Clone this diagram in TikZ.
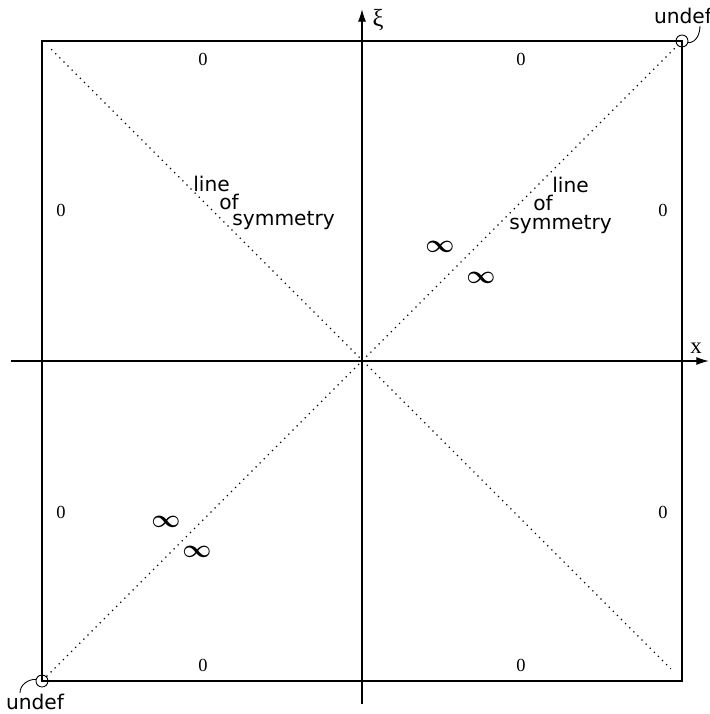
\documentclass[tikz,border=0pt]{standalone}
\usepackage{amsmath}
\usepackage{fontspec}
\setmainfont{Liberation Serif}
\newfontfamily\labelfont{DejaVu Sans}
\usetikzlibrary{arrows.meta}
\begin{document}
\begin{tikzpicture}[
    x=0.02cm, y=0.02cm,
    axis/.style={-{Latex[length=7pt,width=4.5pt]}, line width=0.6pt},
    symline/.style={line width=0.7pt, dash pattern=on 0.7pt off 2.6pt},
    zero/.style={font=\fontsize{10.5}{12}\selectfont, inner sep=0pt},
    symlabel/.style={font=\labelfont\fontsize{11.5}{12}\selectfont, inner sep=0pt},
    steplabel/.style={symlabel, anchor=base west, text height=1ex, text depth=0pt},
    blowup/.style={font=\Large, inner sep=0pt},
    endmark/.style={circle, draw, line width=0.5pt, minimum size=0.24cm, inner sep=0pt}
  ]
    \useasboundingbox (-362,-353) rectangle (348,361);
    % box and axes
    \draw[line width=0.6pt] (-320,-320) rectangle (320,320);
    \node[inner sep=0pt] (xl) at (-352,0) {};
    \node[inner sep=0pt] (xr) at (348,0) {};
    \node[inner sep=0pt] (yb) at (0,-344) {};
    \node[inner sep=0pt] (yt) at (0,353) {};
    \draw[axis] (xl) -- (xr);
    \draw[axis] (yb) -- (yt);
    \node[font=\fontsize{13}{14}\selectfont, inner sep=0pt] (xlab) at (334,13) {x};
    \node[font=\fontsize{14}{15}\selectfont, inner sep=0pt] (xilab) at (16,341) {ξ};
    % corners where it is undefined
    \node[endmark] (cur) at (320,320) {};
    \node[endmark] (cll) at (-320,-320) {};
    % lines of symmetry
    \draw[symline] (cll) -- (cur);
    \node[inner sep=0pt] (atl) at (-312,313) {};
    \node[inner sep=0pt] (abr) at (310,-309) {};
    \draw[symline] (atl) -- (abr);
    % zeros on the boundary
    \node[zero] (z1) at (-159,302) {0};
    \node[zero] (z2) at (159,302) {0};
    \node[zero] (z3) at (-301,151) {0};
    \node[zero] (z4) at (301,151) {0};
    \node[zero] (z5) at (-301,-151) {0};
    \node[zero] (z6) at (301,-151) {0};
    \node[zero] (z7) at (-159,-304) {0};
    \node[zero] (z8) at (159,-304) {0};
    % labels
    \node[steplabel] (ll1) at (-169,170) {line};
    \node[steplabel] (ll2) at (-143,152) {of};
    \node[steplabel] (ll3) at (-130,135) {symmetry};
    \node[steplabel] (lr1) at (190,169) {line};
    \node[steplabel] (lr2) at (171,151) {of};
    \node[steplabel] (lr3) at (147,132) {symmetry};
    % infinities near the diagonal
    \node[blowup] (i1) at (78,114) {$\boldsymbol{\infty}$};
    \node[blowup] (i2) at (119,83) {$\boldsymbol{\infty}$};
    \node[blowup] (i3) at (-196,-161) {$\boldsymbol{\infty}$};
    \node[blowup] (i4) at (-165,-191) {$\boldsymbol{\infty}$};
    % undef marks
    \node[symlabel] (uur) at (321,345) {undef};
    \node[symlabel] (ull) at (-327,-341) {undef};
    \coordinate (tur) at (338,335);
    \coordinate (tll) at (-342,-332);
    \draw[line width=0.5pt] (cur.-15) to[out=0,in=-90] (tur);
    \draw[line width=0.5pt] (cll.165) to[out=180,in=90] (tll);
\end{tikzpicture}
\end{document}
